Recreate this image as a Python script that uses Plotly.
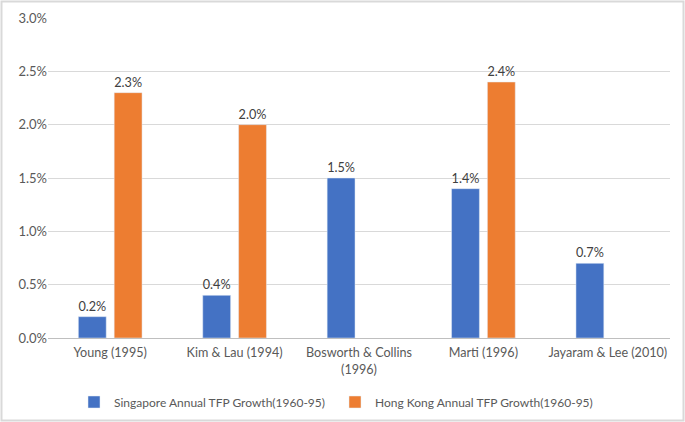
import plotly.graph_objects as go

categories = ["Young (1995)", "Kim & Lau (1994)", "Bosworth & Collins<br>(1996)", "Marti (1996)", "Jayaram & Lee (2010)"]
singapore = [0.002, 0.004, 0.015, 0.014, 0.007]
hongkong = [0.023, 0.020, None, 0.024, None]
series_names = ["Singapore Annual TFP Growth(1960-95)", "Hong Kong Annual TFP Growth(1960-95)"]
y_ticks = [0, 0.005, 0.01, 0.015, 0.02, 0.025, 0.03]

def labels(vals):
    return ["" if v is None else f"{v*100:.1f}%" for v in vals]

L, R, T, B = 48, 15, 18, 84
W, H = 685, 422
pw, ph = W - L - R, H - T - B

fig = go.Figure()
fig.add_trace(go.Bar(x=categories, y=singapore, name=series_names[0], marker_color="#4472C4",
                     text=labels(singapore), textposition="outside", cliponaxis=False,
                     textfont=dict(color="#404040", size=13)))
fig.add_trace(go.Bar(x=categories, y=hongkong, name=series_names[1], marker_color="#ED7D31",
                     text=labels(hongkong), textposition="outside", cliponaxis=False,
                     textfont=dict(color="#404040", size=13)))

fig.update_layout(
    width=W, height=H,
    margin=dict(l=L, r=R, t=T, b=B),
    paper_bgcolor="white", plot_bgcolor="white",
    font=dict(family="Lato, Liberation Sans, sans-serif", size=13, color="#595959"),
    barmode="group", bargap=0.424, bargroupgap=0.222,
    showlegend=True,
    legend=dict(orientation="h", x=(74 - L)/pw, xanchor="left", xref="paper",
                y=20/H, yanchor="middle", yref="container", entrywidth=216,
                font=dict(size=12, color="#595959"), itemwidth=30, traceorder="normal"),
    xaxis=dict(showgrid=False, showline=True, linecolor="#BFBFBF", linewidth=1,
               ticks="", tickfont=dict(size=12.6, color="#595959"), automargin=False,
               ticklabelstandoff=3),
    yaxis=dict(range=[0, 0.03], tickvals=y_ticks, tickformat=".1%", showgrid=True,
               gridcolor="#D9D9D9", gridwidth=1, zeroline=False, showline=False,
               ticks="", tickfont=dict(size=13, color="#595959"), automargin=False),
)

fig.add_shape(type="rect", xref="paper", yref="paper",
              x0=(1.5 - L)/pw, x1=(W - 1.5 - L)/pw,
              y0=-(B - 1.5)/ph, y1=1 + (T - 1.5)/ph,
              line=dict(color="#D9D9D9", width=2), fillcolor="rgba(0,0,0,0)", layer="above")

fig.write_html("out.html", config={"displayModeBar": False},
               post_script="document.body.style.margin='0';")
